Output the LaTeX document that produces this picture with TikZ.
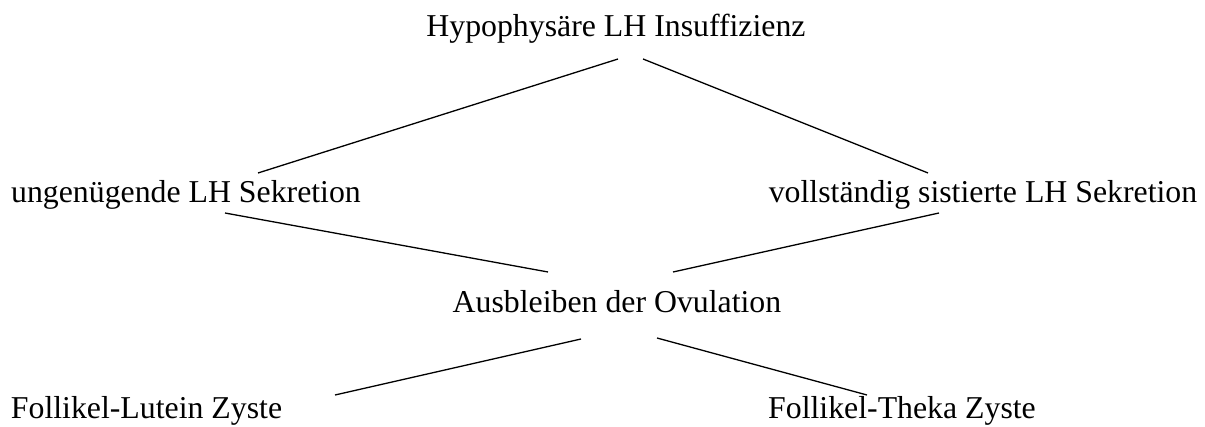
\documentclass[tikz,border=0pt]{standalone}
\usepackage{fontspec}
\setmainfont{Liberation Serif}
\begin{document}
\begin{tikzpicture}[x=1pt,y=-1pt,
  lbl/.style={inner sep=0pt,anchor=base,font=\fontsize{31.8}{38}\selectfont},
  conn/.style={line width=1.3pt}]
\useasboundingbox (0,0) rectangle (1205,427);
\node[lbl] (top) at (616,37) {Hypophysäre LH Insuffizienz};
\node[lbl] (left) at (186,203) {ungenügende LH Sekretion};
\node[lbl] (right) at (983,203) {vollständig sistierte LH Sekretion};
\node[lbl] (mid) at (617,313) {Ausbleiben der Ovulation};
\node[lbl] (bl) at (146.5,419) {Follikel-Lutein Zyste};
\node[lbl] (br) at (902,419) {Follikel-Theka Zyste};
\coordinate (t1) at (618,59);
\coordinate (l1) at (258,173);
\coordinate (t2) at (643,59);
\coordinate (r1) at (928,173);
\coordinate (l2) at (225,213);
\coordinate (m1) at (548,272);
\coordinate (r2) at (939,213);
\coordinate (m2) at (673,272);
\coordinate (m3) at (581,339);
\coordinate (b1) at (335,395);
\coordinate (m4) at (657,338);
\coordinate (b2) at (867,395);
\draw[conn] (t1) -- (l1);
\draw[conn] (t2) -- (r1);
\draw[conn] (l2) -- (m1);
\draw[conn] (r2) -- (m2);
\draw[conn] (m3) -- (b1);
\draw[conn] (m4) -- (b2);
\end{tikzpicture}
\end{document}
